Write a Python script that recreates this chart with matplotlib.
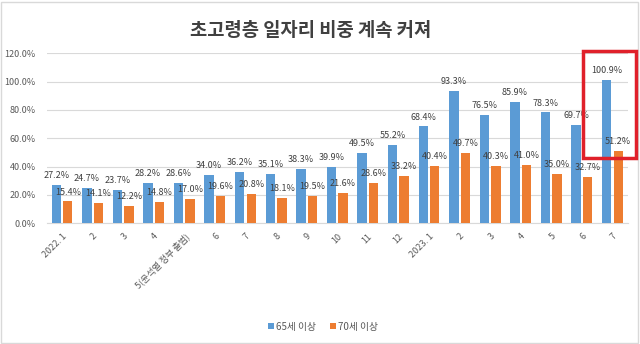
import matplotlib
matplotlib.use("Agg")
import matplotlib.pyplot as plt
from matplotlib.patches import Rectangle
from matplotlib.ticker import FuncFormatter
import numpy as np

plt.rcParams['font.family'] = ['Noto Sans CJK KR', 'DejaVu Sans']

# --- data ---
months = ["2022. 1", "2", "3", "4", "5(윤석열 정부 출범)", "6", "7", "8", "9", "10",
          "11", "12", "2023. 1", "2", "3", "4", "5", "6", "7"]
over65 = [27.2, 24.7, 23.7, 28.2, 28.6, 34.0, 36.2, 35.1, 38.3, 39.9,
          49.5, 55.2, 68.4, 93.3, 76.5, 85.9, 78.3, 69.7, 100.9]
over70 = [15.4, 14.1, 12.2, 14.8, 17.0, 19.6, 20.8, 18.1, 19.5, 21.6,
          28.6, 33.2, 40.4, 49.7, 40.3, 41.0, 35.0, 32.7, 51.2]
series_names = ["65세 이상", "70세 이상"]

BLUE = '#5B9BD5'
ORANGE = '#ED7D31'
TXT = '#404040'

fig = plt.figure(figsize=(6.4, 3.44), dpi=100)
ax = fig.add_axes([46.7 / 640, 1 - 223.3 / 344, (627.8 - 46.7) / 640, (223.3 - 53.3) / 344])

x = np.arange(len(months))
w = 0.31
off = 0.188
b1 = ax.bar(x - off, over65, w, color=BLUE, label=series_names[0], zorder=3)
b2 = ax.bar(x + off, over70, w, color=ORANGE, label=series_names[1], zorder=3)

# value labels above each bar
for bars, vals in [(b1, over65), (b2, over70)]:
    for rect, v in zip(bars, vals):
        ax.annotate(f"{v:.1f}%", (rect.get_x() + rect.get_width() / 2, v),
                    xytext=(0, 3.5), textcoords='offset points', ha='center', va='bottom',
                    fontsize=6.5, color=TXT, zorder=5)

ax.set_xlim(-0.5, len(months) - 0.5)
ax.set_ylim(0, 120)
ax.set_yticks(np.arange(0, 121, 20))
ax.yaxis.set_major_formatter(FuncFormatter(lambda v, p: f"{v:.1f}%"))
ax.grid(axis='y', color='#D9D9D9', linewidth=0.8, zorder=0)
for s in ['top', 'right', 'left']:
    ax.spines[s].set_visible(False)
ax.spines['bottom'].set_color('#D9D9D9')
ax.tick_params(axis='both', length=0, labelsize=6.5, colors='#595959')
ax.tick_params(axis='y', pad=8)
ax.set_xticks(x)
ax.set_xticklabels(months, rotation=45, ha='right', rotation_mode='anchor')
ax.tick_params(axis='x', pad=6)

fig.text(0.486, 0.912, "초고령층 일자리 비중 계속 커져", ha='center', va='center',
         fontsize=13.5, fontweight='bold', color=TXT)

fig.legend(handles=[b1, b2], labels=series_names, loc='center', bbox_to_anchor=(0.505, 0.05),
           ncol=2, frameon=False, fontsize=7, labelcolor='#595959',
           handlelength=0.6, handleheight=0.6, handletextpad=0.2, columnspacing=1.5)

# highlight box around the last month
fig.add_artist(Rectangle((583 / 640, 1 - 158 / 344), 53 / 640, 107 / 344,
                         transform=fig.transFigure, fill=False, edgecolor='#E0202A',
                         linewidth=2.5, zorder=10))
# chart area border
fig.add_artist(Rectangle((0.002, 0.004), 0.995, 0.99, transform=fig.transFigure,
                         fill=False, edgecolor='#D9D9D9', linewidth=1))

fig.savefig("out.png", dpi=100)
